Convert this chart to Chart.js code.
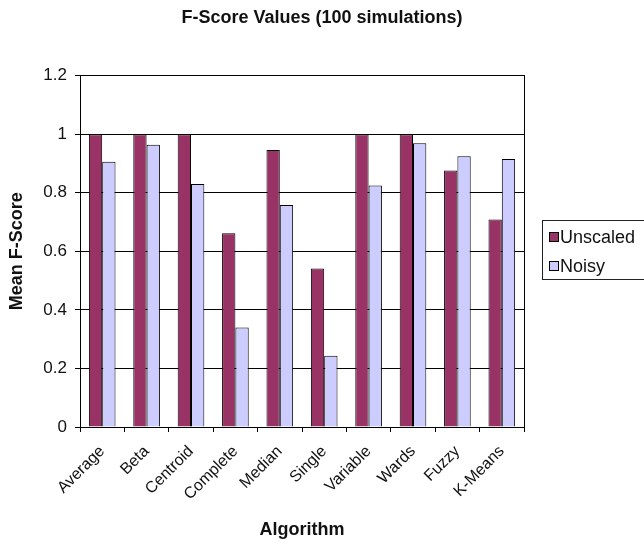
<!DOCTYPE html>
<html>
<head>
<meta charset="utf-8">
<script src="https://cdn.jsdelivr.net/npm/chart.js@4/dist/chart.umd.min.js"></script>
<style>
  html, body { margin: 0; padding: 0; background: #fff; }
  #wrap { width: 644px; height: 545px; }
</style>
</head>
<body>
<div id="wrap"><canvas id="c" width="644" height="545"></canvas></div>
<script>
// Clustering algorithms compared
const algorithms = ['Average', 'Beta', 'Centroid', 'Complete', 'Median', 'Single', 'Variable', 'Wards', 'Fuzzy', 'K-Means'];
// Mean F-score per algorithm, unscaled data
const unscaled = [1.0, 1.0, 1.0, 0.662, 0.946, 0.541, 1.0, 1.0, 0.876, 0.709];
// Mean F-score per algorithm, noisy data
const noisy = [0.906, 0.964, 0.830, 0.340, 0.758, 0.243, 0.825, 0.969, 0.925, 0.915];
// Y axis ticks
const yTicks = [0, 0.2, 0.4, 0.6, 0.8, 1, 1.2];

const FONT = "'Liberation Sans', Arial, sans-serif";

// Boxed legend to the right of the plot
const legendBoxPlugin = {
  id: 'legendBox',
  afterDraw(chart) {
    const ctx = chart.ctx;
    ctx.save();
    ctx.lineWidth = 1;
    ctx.strokeStyle = '#222';
    ctx.strokeRect(542.5, 220.5, 120, 59);
    ctx.font = '18px ' + FONT;
    ctx.textBaseline = 'middle';
    ctx.textAlign = 'left';
    const rows = [237, 266];
    chart.data.datasets.forEach((ds, i) => {
      const y = rows[i];
      ctx.fillStyle = ds.backgroundColor;
      ctx.fillRect(549.5, y - 4.5, 9, 9);
      ctx.strokeStyle = '#000';
      ctx.strokeRect(549.5, y - 4.5, 9, 9);
      ctx.fillStyle = '#111';
      ctx.fillText(ds.label, 560, y + 1);
    });
    ctx.restore();
  }
};

new Chart(document.getElementById('c'), {
  type: 'bar',
  data: {
    labels: algorithms,
    datasets: [
      { label: 'Unscaled', data: unscaled, backgroundColor: '#993366', borderColor: '#000', borderWidth: 1 },
      { label: 'Noisy', data: noisy, backgroundColor: '#CCCCFF', borderColor: '#000', borderWidth: 1 }
    ]
  },
  options: {
    responsive: false,
    animation: false,
    devicePixelRatio: 1,
    layout: { padding: 0 },
    datasets: { bar: { categoryPercentage: 0.6, barPercentage: 1.0 } },
    plugins: {
      legend: { display: false },
      tooltip: { enabled: false },
      title: {
        display: true,
        text: 'F-Score Values (100 simulations)',
        color: '#111',
        font: { family: FONT, size: 18, weight: 'bold' },
        padding: { top: 7, bottom: 47 }
      }
    },
    scales: {
      x: {
        grid: { drawOnChartArea: false, drawTicks: true, tickLength: 5, color: '#000', offset: true },
        border: { color: '#000', width: 1 },
        ticks: { color: '#111', font: { family: FONT, size: 16 }, minRotation: 45, maxRotation: 45, autoSkip: false, padding: 10 },
        title: { display: true, text: 'Algorithm', color: '#111', font: { family: FONT, size: 18, weight: 'bold' }, padding: { top: 4, bottom: 4 } },
        afterFit(scale) { scale.height = 118; }
      },
      y: {
        min: 0,
        max: 1.2,
        afterBuildTicks(scale) { scale.ticks = yTicks.map(v => ({ value: v })); },
        grid: { color: '#000', tickLength: 5, drawTicks: true },
        border: { color: '#000', width: 1 },
        ticks: { color: '#111', font: { family: FONT, size: 17 }, padding: 8, callback: v => String(v) },
        title: { display: true, text: 'Mean F-Score', color: '#111', font: { family: FONT, size: 18, weight: 'bold' }, padding: { top: 6, bottom: 2 } },
        afterFit(scale) { scale.width = 80; }
      },
      // right-hand frame of the plot; reserves room for the legend
      y2: {
        position: 'right',
        display: true,
        grid: { drawOnChartArea: false, drawTicks: false },
        ticks: { display: false },
        border: { display: true, color: '#000', width: 1 },
        afterFit(scale) { scale.width = 120; }
      }
    }
  },
  plugins: [legendBoxPlugin]
});
</script>
</body>
</html>
